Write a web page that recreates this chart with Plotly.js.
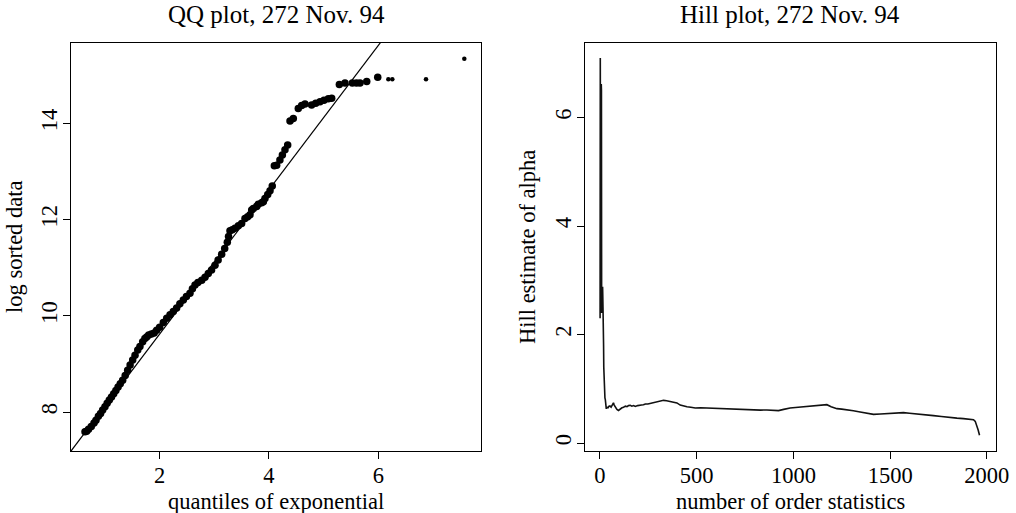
<!DOCTYPE html>
<html>
<head>
<meta charset="utf-8">
<script src="https://cdn.plot.ly/plotly-3.0.1.min.js"></script>
<style>html,body{margin:0;padding:0;background:#fff;}#chart{width:1016px;height:513px;}</style>
</head>
<body>
<div id="chart"></div>
<script>
// ---- QQ plot data (quantiles of exponential vs log sorted data) ----
const qqX = [0.635,0.666,0.70,0.75,0.80,0.836,0.88,0.92,0.958,1.00,1.04,1.08,1.12,1.16,1.20,1.24,1.28,1.324,1.37,1.415,1.46,1.507,1.55,1.60,1.64,1.69,1.73,1.763,1.80,1.85,1.90,1.946,2.00,2.067,2.13,2.19,2.25,2.311,2.37,2.433,2.49,2.555,2.60,2.647,2.70,2.77,2.83,2.89,2.95,3.013,3.07,3.135,3.19,3.238,3.26,3.287,3.33,3.378,3.44,3.50,3.561,3.61,3.653,3.684,3.714,3.775,3.805,3.866,3.897,3.927,3.977,4.019,4.06,4.098,4.141,4.20,4.245,4.293,4.342,4.385,4.445,4.536,4.598,4.659,4.78,4.855,4.933,5.006,5.085,5.147,5.287,5.39,5.525,5.60,5.665,5.788,5.989];
const qqY = [7.59,7.60,7.64,7.70,7.77,7.83,7.91,7.97,8.04,8.11,8.18,8.25,8.31,8.38,8.45,8.52,8.59,8.66,8.76,8.87,8.98,9.08,9.18,9.29,9.36,9.46,9.53,9.56,9.60,9.62,9.64,9.70,9.76,9.86,9.95,10.02,10.09,10.16,10.25,10.33,10.40,10.47,10.56,10.64,10.69,10.74,10.80,10.88,10.95,11.05,11.16,11.28,11.40,11.53,11.65,11.77,11.79,11.82,11.87,11.92,12.02,12.06,12.10,12.20,12.23,12.27,12.32,12.35,12.37,12.44,12.52,12.60,12.70,13.12,13.13,13.24,13.34,13.45,13.55,14.05,14.10,14.31,14.37,14.40,14.38,14.42,14.45,14.48,14.51,14.52,14.81,14.84,14.84,14.84,14.84,14.87,14.96];
// the few largest observations drawn as small dots
const qqTailX = [6.183,6.256,6.872,7.573];
const qqTailY = [14.915,14.915,14.915,15.343];
// reference line: log data = intercept + slope * quantile
const lineIntercept = 6.62;
const lineSlope = 1.5;

// ---- Hill plot data ----
const hillK = [1,2,3,4,5,6,7,8,9,10,11,12,13,14,15,16,17,18,19,20,22,24,26,28,30,33,36,42,48,53,58,64,70,74,79,88,96,105,114,122,132,140,148,157,165,174,183,195,205,215,225,235,248,258,269,285,300,315,329,345,362,380,398,415,432,450,470,493,520,553,590,622,665,708,750,794,830,863,895,923,950,983,1025,1070,1120,1150,1173,1195,1225,1250,1276,1310,1345,1380,1414,1450,1483,1525,1569,1600,1638,1680,1724,1765,1810,1845,1879,1910,1931,1940,1948,1955,1962];
const hillAlpha = [2.30,7.10,6.95,2.60,2.40,2.45,6.62,6.50,2.45,2.40,2.55,2.75,2.45,2.88,2.70,2.50,2.40,2.20,1.80,1.40,1.10,0.90,0.83,0.80,0.66,0.63,0.66,0.65,0.68,0.68,0.66,0.70,0.74,0.70,0.66,0.62,0.60,0.63,0.65,0.66,0.68,0.67,0.69,0.695,0.68,0.69,0.675,0.69,0.70,0.70,0.705,0.72,0.72,0.73,0.737,0.75,0.77,0.78,0.787,0.78,0.77,0.756,0.74,0.70,0.682,0.67,0.66,0.645,0.65,0.645,0.64,0.634,0.63,0.621,0.61,0.603,0.607,0.609,0.60,0.597,0.62,0.645,0.66,0.676,0.69,0.70,0.707,0.67,0.634,0.625,0.615,0.595,0.572,0.55,0.529,0.535,0.54,0.55,0.56,0.55,0.54,0.52,0.505,0.49,0.468,0.46,0.45,0.44,0.431,0.40,0.326,0.24,0.142];

// ---- tick values ----
const qqXTicks = [2,4,6];
const qqYTicks = [8,10,12,14];
const hillXTicks = [0,500,1000,1500,2000];
const hillYTicks = [0,2,4,6];

// ---- titles ----
const titleQQ = "QQ plot, 272 Nov. 94";
const titleHill = "Hill plot, 272 Nov. 94";
const xLabelQQ = "quantiles of exponential";
const yLabelQQ = "log sorted data";
const xLabelHill = "number of order statistics";
const yLabelHill = "Hill estimate of alpha";

const W = 1016, H = 513;
const FONT = "Liberation Serif, Times New Roman, serif";
const FS = 22.5, FS_TITLE = 25;

const qqXRange = [0.379, 7.878];
const qqYRange = [7.19, 15.67];
const lineX = qqXRange;
const lineY = lineX.map(x => lineIntercept + lineSlope * x);

const traces = [
  {x: lineX, y: lineY, xaxis: 'x', yaxis: 'y', mode: 'lines', line: {color: '#000', width: 1.2}, hoverinfo: 'skip'},
  {x: qqX, y: qqY, xaxis: 'x', yaxis: 'y', mode: 'markers', marker: {color: '#000', size: 7.5}},
  {x: qqTailX, y: qqTailY, xaxis: 'x', yaxis: 'y', mode: 'markers', marker: {color: '#000', size: 4.5}},
  {x: hillK, y: hillAlpha, xaxis: 'x2', yaxis: 'y2', mode: 'lines', line: {color: '#111', width: 1.6}}
];

function axisCommon() {
  return {
    showgrid: false, zeroline: false, showline: true, mirror: true,
    linecolor: '#000', linewidth: 1, ticks: 'outside', ticklen: 7, tickwidth: 1,
    tickcolor: '#000', tickfont: {family: FONT, size: FS, color: '#000'}
  };
}
const px2fx = p => p / W;
const px2fy = p => 1 - p / H;

const layout = {
  width: W, height: H,
  margin: {l: 0, r: 0, t: 0, b: 0},
  paper_bgcolor: '#fff', plot_bgcolor: '#fff',
  showlegend: false,
  font: {family: FONT, color: '#000'},
  xaxis: Object.assign(axisCommon(), {domain: [px2fx(71), px2fx(481)], range: qqXRange, tickvals: qqXTicks, anchor: 'y', ticklabelstandoff: -3}),
  yaxis: Object.assign(axisCommon(), {domain: [px2fy(451), px2fy(43)], range: qqYRange, tickvals: qqYTicks, anchor: 'x', tickangle: -90, ticklabelstandoff: -3}),
  xaxis2: Object.assign(axisCommon(), {domain: [px2fx(584.5), px2fx(995.5)], range: [-79.6, 2044.6], tickvals: hillXTicks, anchor: 'y2', ticklabelstandoff: -3}),
  yaxis2: Object.assign(axisCommon(), {domain: [px2fy(451), px2fy(43)], range: [-0.147, 7.375], tickvals: hillYTicks, anchor: 'x2', tickangle: -90, ticklabelstandoff: -3}),
  annotations: [
    {text: titleQQ, x: px2fx(276), y: px2fy(15), xref: 'paper', yref: 'paper', xanchor: 'center', yanchor: 'middle', showarrow: false, font: {family: FONT, size: FS_TITLE}},
    {text: titleHill, x: px2fx(790), y: px2fy(15), xref: 'paper', yref: 'paper', xanchor: 'center', yanchor: 'middle', showarrow: false, font: {family: FONT, size: FS_TITLE}},
    {text: xLabelQQ, x: px2fx(276), y: px2fy(501), xref: 'paper', yref: 'paper', xanchor: 'center', yanchor: 'middle', showarrow: false, font: {family: FONT, size: FS}},
    {text: xLabelHill, x: px2fx(790), y: px2fy(501), xref: 'paper', yref: 'paper', xanchor: 'center', yanchor: 'middle', showarrow: false, font: {family: FONT, size: FS}},
    {text: yLabelQQ, x: px2fx(15), y: px2fy(247), xref: 'paper', yref: 'paper', xanchor: 'center', yanchor: 'middle', textangle: -90, showarrow: false, font: {family: FONT, size: FS}},
    {text: yLabelHill, x: px2fx(528), y: px2fy(247), xref: 'paper', yref: 'paper', xanchor: 'center', yanchor: 'middle', textangle: -90, showarrow: false, font: {family: FONT, size: FS}}
  ]
};

Plotly.newPlot('chart', traces, layout, {staticPlot: true, displayModeBar: false});
</script>
</body>
</html>
